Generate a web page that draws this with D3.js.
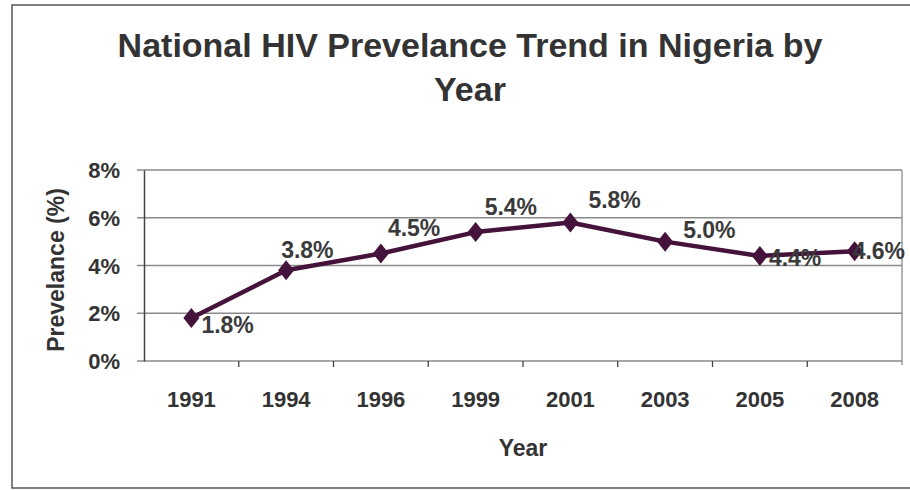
<!DOCTYPE html>
<html><head><meta charset="utf-8">
<script src="https://cdn.jsdelivr.net/npm/d3@7"></script>
<style>
html,body{margin:0;padding:0;background:#fff;}
text{font-family:"Liberation Sans",Arial,sans-serif;font-weight:bold;fill:#333;}
</style></head>
<body>
<svg id="chart" width="910" height="490"></svg>
<script>
const years = ["1991","1994","1996","1999","2001","2003","2005","2008"];
const prevalence = [1.8, 3.8, 4.5, 5.4, 5.8, 5.0, 4.4, 4.6];
const valueLabels = ["1.8%","3.8%","4.5%","5.4%","5.8%","5.0%","4.4%","4.6%"];
const yTicks = [0, 2, 4, 6, 8];
const titleLines = ["National HIV Prevelance Trend in Nigeria by", "Year"];

const svg = d3.select("#chart");
const plot = {left:144, right:902, top:170, bottom:361};

// outer frame
svg.append("path").attr("d","M 912 5 L 12 5 L 12 488 L 912 488")
  .attr("fill","none").attr("stroke","#555").attr("stroke-width",1.5);

const x = d3.scaleBand().domain(years).range([plot.left, plot.right]);
const y = d3.scaleLinear().domain([0, 8]).range([plot.bottom, plot.top]);

// gridlines
svg.append("g").selectAll("line").data(yTicks).join("line")
  .attr("x1", plot.left-7).attr("x2", plot.right)
  .attr("y1", d=>y(d)).attr("y2", d=>y(d))
  .attr("stroke","#8a8a8a").attr("stroke-width",1.3);
// right border
svg.append("line").attr("x1",plot.right).attr("x2",plot.right).attr("y1",plot.top).attr("y2",plot.bottom+4)
  .attr("stroke","#8a8a8a").attr("stroke-width",1.3);

// y axis
const yAxis = d3.axisLeft(y).tickValues(yTicks).tickFormat(d=>d+"%").tickSize(0).tickPadding(24);
const gy = svg.append("g").attr("transform",`translate(${plot.left},0)`).call(yAxis);
gy.select(".domain").attr("stroke","#444").attr("stroke-width",1.5);
gy.selectAll("text").style("font-size","22px").attr("dy","0.35em").style("fill","#333");

// x axis
const xAxis = d3.axisBottom(x).tickSize(0).tickPadding(30);
const gx = svg.append("g").attr("transform",`translate(0,${plot.bottom})`).call(xAxis);
gx.select(".domain").remove();
gx.selectAll("text").style("font-size","22px").style("fill","#333");
// category separator ticks
svg.append("g").selectAll("line").data(years.slice(1)).join("line")
  .attr("x1", d=>x(d)).attr("x2", d=>x(d))
  .attr("y1", plot.bottom).attr("y2", plot.bottom+6)
  .attr("stroke","#444").attr("stroke-width",1.3);

// line
const data = years.map((yr,i)=>({yr, v:prevalence[i], label:valueLabels[i]}));
const line = d3.line().x(d=>x(d.yr)+x.bandwidth()/2).y(d=>y(d.v));
const color = "#44123a";
svg.append("path").datum(data).attr("d", line)
  .attr("fill","none").attr("stroke",color).attr("stroke-width",4.5).attr("stroke-linejoin","round");
svg.append("g").selectAll("path").data(data).join("path")
  .attr("transform", d=>`translate(${x(d.yr)+x.bandwidth()/2},${y(d.v)})`)
  .attr("d","M0,-10 L8,0 L0,10 L-8,0 Z").attr("fill",color);

// data labels (offsets relative to point)
const labelOffsets = [[10,7],[-5,-20],[7,-26],[9,-25],[18,-23],[18,-12],[9,2],[-2,0]];
svg.append("g").selectAll("text").data(data).join("text")
  .attr("x",(d,i)=>x(d.yr)+x.bandwidth()/2+labelOffsets[i][0])
  .attr("y",(d,i)=>y(d.v)+labelOffsets[i][1])
  .attr("dy","0.35em").style("font-size","23px").style("fill","#3a3a3a")
  .text(d=>d.label);

// titles
svg.append("g").selectAll("text").data(titleLines).join("text")
  .attr("x",470).attr("y",(d,i)=>57+i*44).attr("text-anchor","middle")
  .style("font-size","34px").style("fill","#333").text(d=>d);
svg.append("text").attr("x",(plot.left+plot.right)/2).attr("y",456).attr("text-anchor","middle")
  .style("font-size","23px").text("Year");
svg.append("text").attr("transform","translate(64,270) rotate(-90)").attr("text-anchor","middle")
  .style("font-size","23px").text("Prevelance (%)");
</script>
</body></html>
